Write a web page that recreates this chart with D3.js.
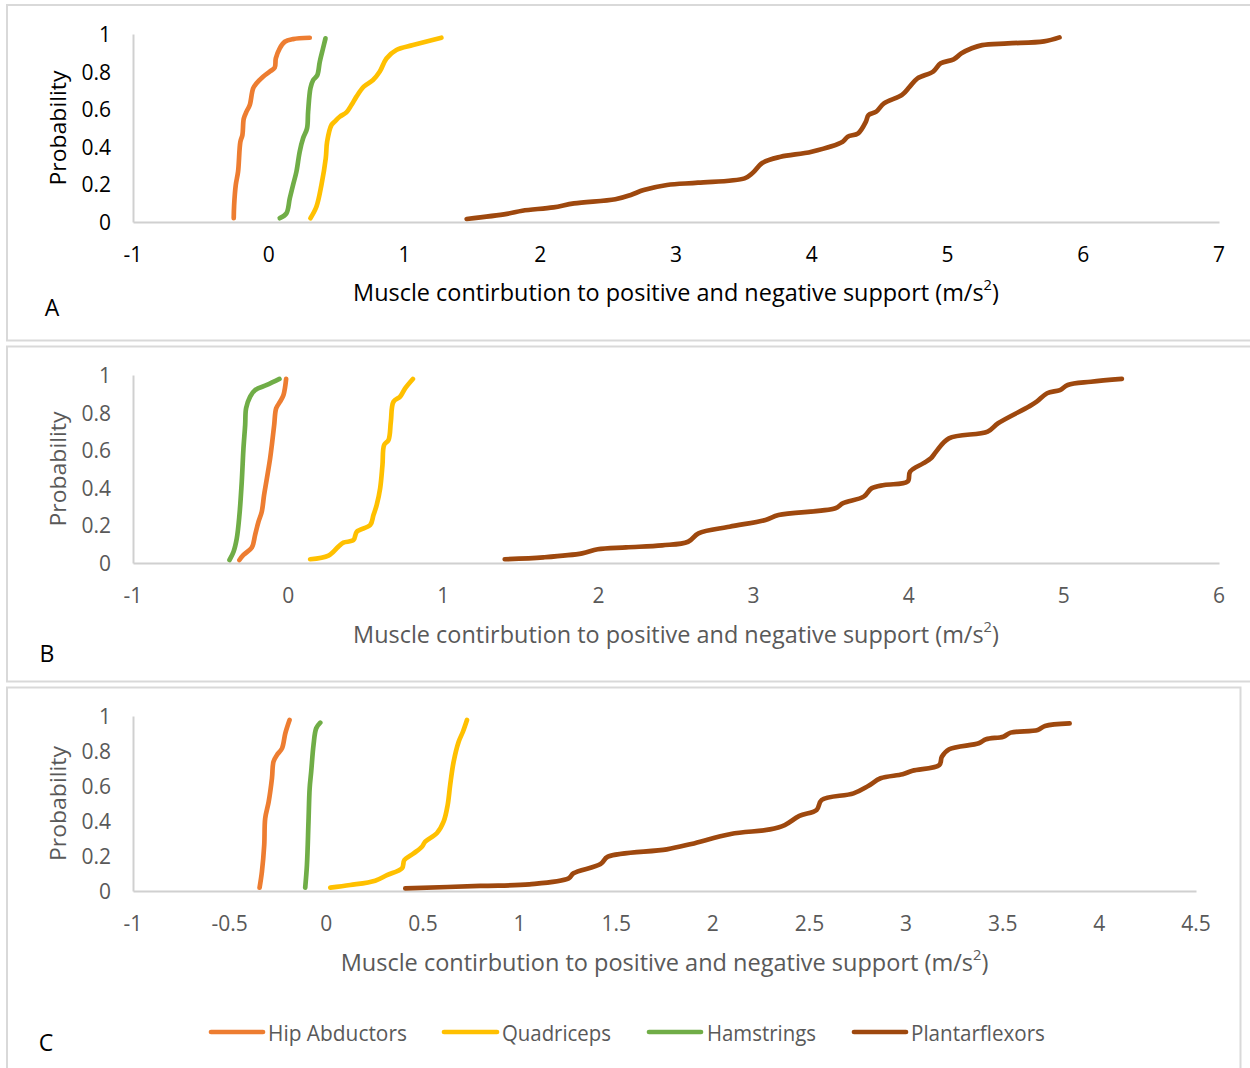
<!DOCTYPE html>
<html>
<head>
<meta charset="utf-8">
<script src="https://cdn.jsdelivr.net/npm/d3@7"></script>
<style>
  html, body { margin: 0; padding: 0; background: #fff; }
  svg { display: block; font-family: "Open Sans", "DejaVu Sans", sans-serif; }
</style>
</head>
<body>
<svg id="chart" width="1250" height="1068"></svg>
<script>
// Cumulative probability curves: [contribution (m/s²), probability]
const seriesNames = ["Hip Abductors", "Quadriceps", "Hamstrings", "Plantarflexors"];
const seriesColors = ["#ED7D31", "#FFC000", "#70AD47", "#9E480E"];

// Panel A
const hipAbductorsA = [[-0.258,0.02],[-0.255,0.09],[-0.243,0.197],[-0.226,0.268],[-0.209,0.427],[-0.194,0.463],[-0.184,0.55],[-0.164,0.587],[-0.14,0.622],[-0.115,0.711],[-0.09,0.738],[-0.042,0.773],[0.007,0.80],[0.044,0.821],[0.052,0.87],[0.081,0.924],[0.118,0.959],[0.179,0.973],[0.302,0.98]];
const quadricepsA = [[0.307,0.02],[0.351,0.081],[0.388,0.197],[0.42,0.339],[0.43,0.427],[0.462,0.516],[0.486,0.534],[0.523,0.56],[0.572,0.583],[0.609,0.622],[0.646,0.667],[0.7,0.72],[0.768,0.755],[0.818,0.80],[0.867,0.87],[0.94,0.915],[1.063,0.941],[1.272,0.98]];
const hamstringsA = [[0.081,0.02],[0.13,0.046],[0.155,0.126],[0.179,0.197],[0.204,0.268],[0.228,0.374],[0.253,0.445],[0.282,0.498],[0.29,0.587],[0.307,0.711],[0.327,0.755],[0.357,0.78],[0.376,0.853],[0.4,0.924],[0.418,0.977]];
const plantarflexorsA = [[1.458,0.016],[1.754,0.043],[1.868,0.06],[2.097,0.078],[2.249,0.099],[2.553,0.121],[2.667,0.144],[2.762,0.17],[2.934,0.197],[3.162,0.209],[3.505,0.232],[3.562,0.259],[3.638,0.315],[3.771,0.347],[3.999,0.374],[4.228,0.427],[4.265,0.454],[4.342,0.472],[4.399,0.534],[4.418,0.569],[4.475,0.587],[4.532,0.631],[4.665,0.676],[4.722,0.72],[4.779,0.764],[4.894,0.80],[4.95,0.844],[5.045,0.865],[5.103,0.897],[5.179,0.924],[5.255,0.941],[5.445,0.95],[5.711,0.961],[5.825,0.982]];

// Panel B
const hipAbductorsB = [[-0.314,0.016],[-0.288,0.043],[-0.234,0.082],[-0.213,0.149],[-0.191,0.22],[-0.17,0.273],[-0.155,0.362],[-0.137,0.45],[-0.116,0.557],[-0.105,0.628],[-0.09,0.734],[-0.077,0.823],[-0.052,0.858],[-0.03,0.894],[-0.013,0.979]];
const quadricepsB = [[0.142,0.02],[0.26,0.039],[0.324,0.087],[0.356,0.108],[0.421,0.122],[0.443,0.167],[0.529,0.202],[0.55,0.255],[0.571,0.309],[0.593,0.397],[0.608,0.521],[0.619,0.628],[0.647,0.654],[0.662,0.752],[0.679,0.858],[0.722,0.885],[0.754,0.929],[0.804,0.979]];
const hamstringsB = [[-0.378,0.016],[-0.352,0.06],[-0.331,0.131],[-0.314,0.255],[-0.299,0.432],[-0.288,0.61],[-0.277,0.734],[-0.271,0.823],[-0.245,0.885],[-0.213,0.92],[-0.137,0.947],[-0.056,0.979]];
const plantarflexorsB = [[1.396,0.02],[1.646,0.03],[1.895,0.051],[1.995,0.073],[2.179,0.083],[2.411,0.094],[2.578,0.113],[2.645,0.158],[2.845,0.193],[3.077,0.229],[3.161,0.255],[3.527,0.291],[3.577,0.318],[3.71,0.353],[3.76,0.397],[3.843,0.415],[3.993,0.433],[4.009,0.486],[4.093,0.53],[4.143,0.557],[4.176,0.592],[4.259,0.663],[4.509,0.699],[4.576,0.743],[4.775,0.832],[4.825,0.858],[4.892,0.903],[4.975,0.92],[5.025,0.947],[5.175,0.964],[5.374,0.979]];

// Panel C
const hipAbductorsC = [[-0.345,0.019],[-0.333,0.11],[-0.321,0.263],[-0.316,0.415],[-0.298,0.51],[-0.281,0.644],[-0.273,0.739],[-0.255,0.777],[-0.229,0.815],[-0.212,0.901],[-0.19,0.977]];
const quadricepsC = [[0.021,0.019],[0.124,0.034],[0.253,0.059],[0.314,0.091],[0.392,0.13],[0.404,0.177],[0.452,0.215],[0.495,0.253],[0.512,0.282],[0.572,0.33],[0.607,0.396],[0.628,0.491],[0.641,0.606],[0.659,0.739],[0.685,0.853],[0.707,0.91],[0.728,0.977]];
const hamstringsC = [[-0.109,0.019],[-0.1,0.149],[-0.092,0.396],[-0.086,0.587],[-0.078,0.682],[-0.066,0.834],[-0.052,0.93],[-0.031,0.962]];
const plantarflexorsC = [[0.409,0.015],[0.797,0.029],[1.051,0.038],[1.254,0.072],[1.279,0.101],[1.419,0.154],[1.457,0.196],[1.762,0.238],[1.889,0.269],[2.093,0.326],[2.296,0.352],[2.372,0.377],[2.448,0.429],[2.537,0.463],[2.563,0.52],[2.728,0.558],[2.804,0.6],[2.868,0.644],[2.982,0.667],[3.033,0.687],[3.172,0.72],[3.185,0.767],[3.223,0.81],[3.376,0.844],[3.414,0.867],[3.503,0.882],[3.541,0.905],[3.681,0.92],[3.719,0.943],[3.846,0.958]];

// Axis ticks
const yTicks = [0, 0.2, 0.4, 0.6, 0.8, 1];
const xTicksA = [-1, 0, 1, 2, 3, 4, 5, 6, 7];
const xTicksB = [-1, 0, 1, 2, 3, 4, 5, 6];
const xTicksC = [-1, -0.5, 0, 0.5, 1, 1.5, 2, 2.5, 3, 3.5, 4, 4.5];

const xTitle = "Muscle contirbution to positive and negative support (m/s";
const yTitle = "Probability";

const svg = d3.select("#chart");

// Squeeze a text group horizontally so its rendered width equals target
function fitWidth(g, textSel, target) {
  const w = textSel.node().getBBox().width;
  if (w > 0) g.attr("transform", g.attr("transform") + ` scale(${target / w},1)`);
}

const panels = [
  { label: "A", frame: [7, 5, 1270, 335.5], plot: [133, 1219, 34, 222], domain: [-1, 7], ticks: xTicksA,
    color: "#000000", labelPos: [52, 307], tickY: 254, titleY: 292, titleW: 646,
    data: [hipAbductorsA, quadricepsA, hamstringsA, plantarflexorsA] },
  { label: "B", frame: [7, 346.5, 1270, 335], plot: [133, 1219, 375, 563], domain: [-1, 6], ticks: xTicksB,
    color: "#595959", labelPos: [47, 653], tickY: 595, titleY: 634, titleW: 646,
    data: [hipAbductorsB, quadricepsB, hamstringsB, plantarflexorsB] },
  { label: "C", frame: [7, 687.5, 1233.5, 420], plot: [133, 1196, 716, 891], domain: [-1, 4.5], ticks: xTicksC,
    color: "#595959", labelPos: [46, 1042], tickY: 923, titleY: 962, titleW: 648,
    data: [hipAbductorsC, quadricepsC, hamstringsC, plantarflexorsC] }
];

panels.forEach(p => {
  const [fx, fy, fw, fh] = p.frame;
  svg.append("rect").attr("x", fx).attr("y", fy).attr("width", fw).attr("height", fh)
    .attr("fill", "#fff").attr("stroke", "#d9d9d9").attr("stroke-width", 2);

  const [left, right, top, bottom] = p.plot;
  const x = d3.scaleLinear().domain(p.domain).range([left, right]);
  const y = d3.scaleLinear().domain([0, 1]).range([bottom, top]);

  // axes (lines only, no tick marks)
  svg.append("g").attr("transform", `translate(0,${bottom})`)
    .call(d3.axisBottom(x).tickValues(p.ticks).tickSize(0).tickFormat(""))
    .call(g => g.select(".domain").attr("stroke", "#d0d0d0").attr("stroke-width", 2));
  svg.append("g").attr("transform", `translate(${left},0)`)
    .call(d3.axisLeft(y).tickValues(yTicks).tickSize(0).tickFormat(""))
    .call(g => g.select(".domain").attr("stroke", "#d0d0d0").attr("stroke-width", 2));

  // tick labels
  svg.append("g").selectAll("text").data(yTicks).join("text")
    .attr("x", 111).attr("y", d => y(d)).attr("text-anchor", "end")
    .attr("dominant-baseline", "central").attr("font-size", 21).attr("fill", p.color)
    .text(d => d3.format("")(d));
  svg.append("g").selectAll("text").data(p.ticks).join("text")
    .attr("x", d => x(d)).attr("y", p.tickY).attr("text-anchor", "middle")
    .attr("dominant-baseline", "central").attr("font-size", 21).attr("fill", p.color)
    .text(d => String(d));

  // axis titles
  const cx = (left + right) / 2;
  const tg = svg.append("g").attr("transform", `translate(${cx},${p.titleY})`);
  const tt = tg.append("text").attr("text-anchor", "middle").attr("dominant-baseline", "central")
    .attr("font-size", 24).attr("fill", p.color);
  tt.append("tspan").text(xTitle);
  tt.append("tspan").attr("font-size", 15).attr("dy", -8).text("2");
  tt.append("tspan").attr("dy", 8).text(")");
  fitWidth(tg, tt, p.titleW);

  const yg = svg.append("g").attr("transform", `translate(58,${(top + bottom) / 2}) rotate(-90)`);
  const yt = yg.append("text").attr("text-anchor", "middle").attr("dominant-baseline", "central")
    .attr("font-size", 22).attr("fill", p.color).text(yTitle);
  fitWidth(yg, yt, 116);

  // panel letter
  svg.append("text").attr("x", p.labelPos[0]).attr("y", p.labelPos[1])
    .attr("text-anchor", "middle").attr("dominant-baseline", "central")
    .attr("font-size", 23).attr("fill", "#000").text(p.label);

  // curves
  const line = d3.line().x(d => x(d[0])).y(d => y(d[1])).curve(d3.curveCatmullRom.alpha(0.5));
  svg.append("g").selectAll("path").data(p.data).join("path")
    .attr("d", line).attr("fill", "none")
    .attr("stroke", (d, i) => seriesColors[i]).attr("stroke-width", 4.7)
    .attr("stroke-linecap", "round").attr("stroke-linejoin", "round");
});

// legend
const legendItems = [
  { name: seriesNames[0], color: seriesColors[0], x0: 211, x1: 263, tx: 268, w: 139 },
  { name: seriesNames[1], color: seriesColors[1], x0: 444, x1: 497, tx: 502, w: 109 },
  { name: seriesNames[2], color: seriesColors[2], x0: 649, x1: 701, tx: 707, w: 109 },
  { name: seriesNames[3], color: seriesColors[3], x0: 854, x1: 906, tx: 911, w: 134 }
];
const legendY = 1032;
legendItems.forEach(it => {
  svg.append("line").attr("x1", it.x0).attr("x2", it.x1).attr("y1", legendY).attr("y2", legendY)
    .attr("stroke", it.color).attr("stroke-width", 4.7).attr("stroke-linecap", "round");
  const g = svg.append("g").attr("transform", `translate(${it.tx},${legendY})`);
  const t = g.append("text").attr("dominant-baseline", "central").attr("font-size", 22)
    .attr("fill", "#595959").text(it.name);
  fitWidth(g, t, it.w);
});
</script>
</body>
</html>
